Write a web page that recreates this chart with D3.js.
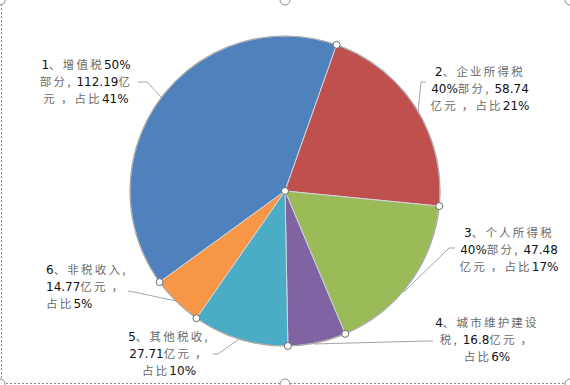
<!DOCTYPE html>
<html>
<head>
<meta charset="utf-8">
<script src="https://cdn.jsdelivr.net/npm/d3@7"></script>
<style>
  body { margin: 0; background: #fff; }
  svg { display: block; }
</style>
</head>
<body>
<svg width="570" height="385"></svg>
<script>
// data
let names = ["增值税50%部分", "企业所得税40%部分", "个人所得税40%部分", "城市维护建设税", "其他税收", "非税收入"];
let values = [112.19, 58.74, 47.48, 16.8, 27.71, 14.77];
let shares = ["41%", "21%", "17%", "6%", "10%", "5%"];
let colors = ["#4F81BD", "#C0504D", "#9BBB59", "#8064A2", "#4BACC6", "#F79646"];
let labelLines = [
    ["1、增值税50%", "部分, 112.19亿", "元 ，占比41%"],
    ["2、企业所得税", "40%部分, 58.74", "亿元 ，占比21%"],
    ["3、个人所得税", "40%部分, 47.48", "亿元 ，占比17%"],
    ["4、城市维护建设", "税, 16.8亿元 ，", "占比6%"],
    ["5、其他税收,", "27.71亿元 ，", "占比10%"],
    ["6、非税收入,", "14.77亿元 ，", "占比5%"]
];

let svg = d3.select("svg");
let width = parseInt(svg.attr("width"));
let height = parseInt(svg.attr("height"));

let cx = 285, cy = 191, radius = 155;
let start = -126 * Math.PI / 180;

let pie = d3.pie()
    .sort(null)
    .startAngle(start)
    .endAngle(start + 2 * Math.PI);

let arc = d3.arc()
    .innerRadius(0)
    .outerRadius(radius);

let arcs = pie(values);

// chart area frame (selected look)
svg.append("path")
    .attr("d", "M1.5,0 V383.5 H570")
    .attr("fill", "none")
    .attr("stroke", "#8a8a8a")
    .attr("stroke-dasharray", "2,2");

let g = svg.append("g").attr("transform", "translate(" + cx + "," + cy + ")");

g.selectAll("path.slice")
    .data(arcs)
    .enter()
    .append("path")
    .attr("class", "slice")
    .attr("d", arc)
    .attr("fill", function (d, i) { return colors[i]; })
    .attr("stroke", "#d0d4dc")
    .attr("stroke-width", 1);

g.append("circle")
    .attr("r", radius)
    .attr("fill", "none")
    .attr("stroke", "#aaaaaa")
    .attr("stroke-width", 1.2);

// leader lines
let leaders = [
    [[138, 82], [147, 82], [161, 97]],
    [[426, 82], [421, 82], [418, 112]],
    [[455, 248], [449, 248], [404, 292]],
    [[433, 341], [427, 341], [314, 344]],
    [[213, 354], [218, 354], [239, 339]],
    [[128, 291], [134, 292], [176, 301]]
];
svg.selectAll("polyline.leader")
    .data(leaders)
    .enter()
    .append("polyline")
    .attr("class", "leader")
    .attr("points", function (d) { return d.map(function (p) { return p.join(","); }).join(" "); })
    .attr("fill", "none")
    .attr("stroke", "#a6a6a6")
    .attr("stroke-width", 1);

// selection handles on slice boundaries
let handles = arcs.map(function (d) {
    return [Math.sin(d.startAngle) * radius, -Math.cos(d.startAngle) * radius];
});
handles.push([0, 0]);
g.selectAll("circle.handle")
    .data(handles)
    .enter()
    .append("circle")
    .attr("class", "handle")
    .attr("cx", function (d) { return d[0]; })
    .attr("cy", function (d) { return d[1]; })
    .attr("r", 3.5)
    .attr("fill", "#fff")
    .attr("stroke", "#6b6b6b")
    .attr("stroke-width", 1);

// chart area handles
let frameHandles = [[0, 0], [width / 2, 0], [width, 0], [0, height - 1], [width / 2, height - 1], [width, height - 1]];
svg.selectAll("circle.fh")
    .data(frameHandles)
    .enter()
    .append("circle")
    .attr("class", "fh")
    .attr("cx", function (d) { return d[0]; })
    .attr("cy", function (d) { return d[1]; })
    .attr("r", 5)
    .attr("fill", "#fff")
    .attr("stroke", "#8a8a8a")
    .attr("stroke-width", 1);

// labels
let labelPos = [
    { x: 86, y: 69, anchor: "middle" },
    { x: 480, y: 76, anchor: "middle" },
    { x: 509, y: 237, anchor: "middle" },
    { x: 487, y: 327, anchor: "middle" },
    { x: 169, y: 341, anchor: "middle" },
    { x: 46, y: 274, anchor: "start" }
];
let lineGap = 17;
let cjk = /[\u3000-\u9fff\uff00-\uffef,]/;

function runs(s) {
    let out = [];
    for (let ch of s) {
        let isC = cjk.test(ch);
        if (out.length && out[out.length - 1].c === isC) out[out.length - 1].t += ch;
        else out.push({ c: isC, t: ch });
    }
    return out;
}

labelLines.forEach(function (lines, i) {
    let p = labelPos[i];
    lines.forEach(function (line, j) {
        let t = svg.append("text")
            .attr("x", p.x)
            .attr("y", p.y + j * lineGap)
            .attr("text-anchor", p.anchor)
            .attr("font-size", 12);
        runs(line).forEach(function (r) {
            let ts = t.append("tspan").text(r.t);
            if (r.c) {
                ts.attr("font-family", "'Noto Sans CJK SC', sans-serif")
                    .attr("font-size", 11.5)
                    .attr("letter-spacing", 2.2)
                    .attr("fill", "#6a6a6a");
            } else {
                ts.attr("font-family", "'DejaVu Sans', sans-serif")
                    .attr("font-size", 12)
                    .attr("fill", "#111");
            }
        });
    });
});
</script>
</body>
</html>
